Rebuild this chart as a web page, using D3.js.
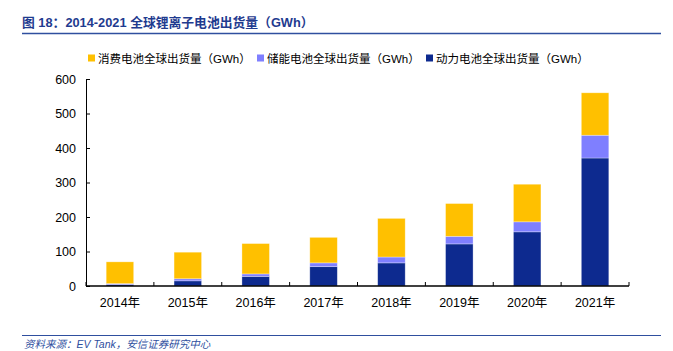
<!DOCTYPE html>
<html>
<head>
<meta charset="utf-8">
<script src="https://cdn.jsdelivr.net/npm/d3@7"></script>
<style>
  body { margin: 0; background: #fff; }
  svg { display: block; font-family: "Liberation Sans", Arial, "Noto Sans CJK SC", sans-serif; }
</style>
</head>
<body>
<div id="chart"></div>
<script>
// data
const years = ["2014年", "2015年", "2016年", "2017年", "2018年", "2019年", "2020年", "2021年"];
const power = [4, 15, 28, 56, 67, 122, 157, 371];
const storage = [3, 6, 7, 11, 17, 22, 29, 66];
const consumer = [63, 77, 88, 74, 112, 95, 109, 123];
const yTicks = [0, 100, 200, 300, 400, 500, 600];

const seriesNames = ["动力电池全球出货量（GWh）", "储能电池全球出货量（GWh）", "消费电池全球出货量（GWh）"];
const seriesColors = ["#0d2a8f", "#7f7fff", "#ffc000"];

const width = 673, height = 351;
const margin = { left: 86, right: 44, top: 79, bottom: 65 };

const svg = d3.select("#chart").append("svg")
  .attr("width", width)
  .attr("height", height);

// title + rules
svg.append("text")
  .attr("x", 22).attr("y", 27)
  .attr("fill", "#1f3b8f")
  .style("font-size", "12.8px")
  .style("font-weight", "bold")
  .text("图 18：2014-2021 全球锂离子电池出货量（GWh）");

svg.append("line")
  .attr("x1", 22).attr("x2", 661).attr("y1", 33.5).attr("y2", 33.5)
  .attr("stroke", "#2f4f9f").attr("stroke-width", 1.5);

svg.append("line")
  .attr("x1", 22).attr("x2", 661).attr("y1", 335.5).attr("y2", 335.5)
  .attr("stroke", "#2f4f9f").attr("stroke-width", 1.2);

svg.append("text")
  .attr("x", 24).attr("y", 348)
  .attr("fill", "#2f4f9f")
  .style("font-size", "10.5px")
  .style("font-style", "italic")
  .text("资料来源：EV Tank，安信证券研究中心");

// scales
const xb = d3.scaleBand().domain(years).range([margin.left, width - margin.right]);
const y = d3.scaleLinear().domain([0, 600]).range([height - margin.bottom, margin.top]);

// stacked data
const rows = years.map((yr, i) => ({ year: yr, power: power[i], storage: storage[i], consumer: consumer[i] }));
const stack = d3.stack().keys(["power", "storage", "consumer"])(rows);

const g = svg.append("g");
g.selectAll("g.layer")
  .data(stack)
  .join("g")
  .attr("class", "layer")
  .attr("fill", (d, i) => seriesColors[i])
  .selectAll("rect")
  .data(d => d)
  .join("rect")
  .attr("x", d => xb(d.data.year) + (xb.bandwidth() - 27.5) / 2)
  .attr("width", 27.5)
  .attr("y", d => y(d[1]))
  .attr("height", d => y(d[0]) - y(d[1]))
  .attr("stroke", "#ffffff")
  .attr("stroke-opacity", 0.45)
  .attr("stroke-width", 0.7);

// y axis
const yAxis = svg.append("g")
  .attr("transform", `translate(${margin.left},0)`)
  .call(d3.axisRight(y).tickValues(yTicks).tickSize(4).tickFormat(""));
yAxis.select(".domain").attr("stroke", "#000");
yAxis.selectAll("line").attr("stroke", "#000");

svg.append("g").selectAll("text")
  .data(yTicks)
  .join("text")
  .attr("x", 76)
  .attr("y", d => y(d) + 4.5)
  .attr("text-anchor", "end")
  .style("font-size", "12.5px")
  .attr("fill", "#000")
  .text(d => d);

// x axis: ticks at band boundaries, pointing up
const xAxisY = height - margin.bottom;
svg.append("line")
  .attr("x1", margin.left).attr("x2", width - margin.right)
  .attr("y1", xAxisY).attr("y2", xAxisY)
  .attr("stroke", "#000").attr("stroke-width", 1.5);

const boundaries = years.map(yr => xb(yr)).concat([width - margin.right]);
svg.append("g").selectAll("line")
  .data(boundaries)
  .join("line")
  .attr("x1", d => d).attr("x2", d => d)
  .attr("y1", xAxisY).attr("y2", xAxisY - 4)
  .attr("stroke", "#000");

svg.append("g").selectAll("text")
  .data(years)
  .join("text")
  .attr("x", d => xb(d) + xb.bandwidth() / 2)
  .attr("y", xAxisY + 21)
  .attr("text-anchor", "middle")
  .style("font-size", "12.5px")
  .attr("fill", "#000")
  .text(d => d);

// legend (order as shown: consumer, storage, power)
const legendItems = [
  { name: seriesNames[2], color: seriesColors[2], x: 88 },
  { name: seriesNames[1], color: seriesColors[1], x: 257 },
  { name: seriesNames[0], color: seriesColors[0], x: 426 }
];
const lg = svg.append("g").selectAll("g")
  .data(legendItems)
  .join("g")
  .attr("transform", d => `translate(${d.x},58)`);
lg.append("rect")
  .attr("x", 0).attr("y", -3.5)
  .attr("width", 7).attr("height", 7)
  .attr("fill", d => d.color);
lg.append("text")
  .attr("x", 10).attr("y", 4.5)
  .style("font-size", "11.5px")
  .attr("fill", "#000")
  .text(d => d.name);
</script>
</body>
</html>
